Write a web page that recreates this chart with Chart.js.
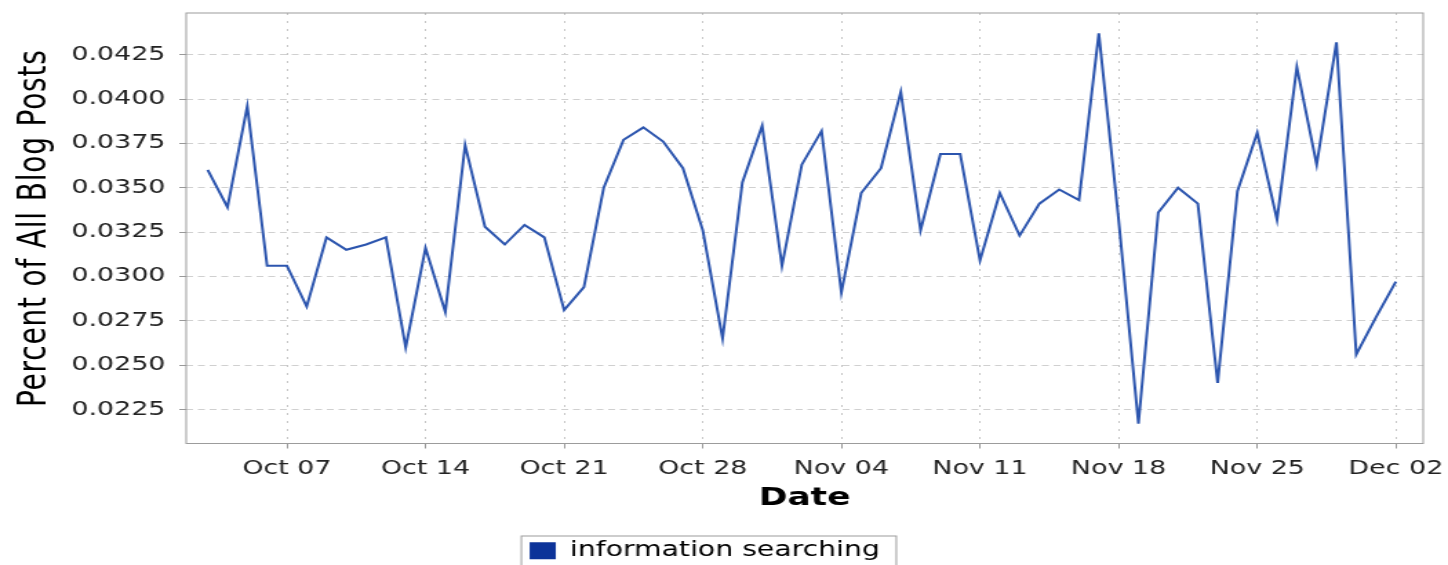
<!DOCTYPE html>
<html>
<head>
<meta charset="utf-8">
<script src="https://cdn.jsdelivr.net/npm/chart.js@4.4.0/dist/chart.umd.min.js"></script>
<style>
  html, body { margin: 0; padding: 0; background: #fff; }
  #wrap { width: 1448px; height: 565px; overflow: hidden; }
  /* the chart is drawn narrow and stretched sideways, like the source image */
  #chart { display: block; width: 1448px !important; height: 580px !important; }
</style>
</head>
<body>
<div id="wrap"><canvas id="chart" width="1050" height="580"></canvas></div>
<script>
var dates = [
  'Oct 03', 'Oct 04', 'Oct 05', 'Oct 06', 'Oct 07', 'Oct 08', 'Oct 09', 'Oct 10',
  'Oct 11', 'Oct 12', 'Oct 13', 'Oct 14', 'Oct 15', 'Oct 16', 'Oct 17', 'Oct 18',
  'Oct 19', 'Oct 20', 'Oct 21', 'Oct 22', 'Oct 23', 'Oct 24', 'Oct 25', 'Oct 26',
  'Oct 27', 'Oct 28', 'Oct 29', 'Oct 30', 'Oct 31', 'Nov 01', 'Nov 02', 'Nov 03',
  'Nov 04', 'Nov 05', 'Nov 06', 'Nov 07', 'Nov 08', 'Nov 09', 'Nov 10', 'Nov 11',
  'Nov 12', 'Nov 13', 'Nov 14', 'Nov 15', 'Nov 16', 'Nov 17', 'Nov 18', 'Nov 19',
  'Nov 20', 'Nov 21', 'Nov 22', 'Nov 23', 'Nov 24', 'Nov 25', 'Nov 26', 'Nov 27',
  'Nov 28', 'Nov 29', 'Nov 30', 'Dec 01', 'Dec 02'
];

var infoSearching = [
  0.0360, 0.0339, 0.0396, 0.0306, 0.0306, 0.0283, 0.0322, 0.0315,
  0.0318, 0.0322, 0.0260, 0.0316, 0.0280, 0.0374, 0.0328, 0.0318,
  0.0329, 0.0322, 0.0281, 0.0294, 0.0350, 0.0377, 0.0384, 0.0376,
  0.0361, 0.0326, 0.0265, 0.0353, 0.0385, 0.0306, 0.0363, 0.0382,
  0.0291, 0.0347, 0.0361, 0.0404, 0.0326, 0.0369, 0.0369, 0.0309,
  0.0347, 0.0323, 0.0341, 0.0349, 0.0343, 0.0437, 0.0332, 0.0217,
  0.0336, 0.0350, 0.0341, 0.0240, 0.0348, 0.0381, 0.0332, 0.0418,
  0.0363, 0.0432, 0.0256, 0.0277, 0.0297
];

var weekTicks = ['Oct 07', 'Oct 14', 'Oct 21', 'Oct 28', 'Nov 04', 'Nov 11', 'Nov 18', 'Nov 25', 'Dec 02'];
var yTicks = [0.0225, 0.0250, 0.0275, 0.0300, 0.0325, 0.0350, 0.0375, 0.0400, 0.0425];

var seriesName = 'information searching';
var yTitle = 'Percent of All Blog Posts';
var xTitle = 'Date';

var lineColor = '#2c55ae';
var swatchColor = '#0c3399';
var tickFont = { family: 'DejaVu Sans', size: 19.5 };

// plot frame, rotated y title and the box round the legend
var extras = {
  id: 'extras',
  afterLayout: function(chart) {
    // legend sits a little left of centre in the original
    chart.legend.left -= 5;
    chart.legend.right -= 5;
  },
  beforeDatasetsDraw: function(chart) {
    var a = chart.chartArea, ctx = chart.ctx;
    ctx.save();
    ctx.strokeStyle = '#9c9c9c';
    ctx.lineWidth = 1;
    ctx.strokeRect(a.left, a.top, a.right - a.left, a.bottom - a.top);
    ctx.restore();
  },
  afterDraw: function(chart) {
    var a = chart.chartArea, ctx = chart.ctx;
    ctx.save();
    ctx.translate(26, (a.top + a.bottom) / 2);
    ctx.rotate(-Math.PI / 2);
    ctx.font = '28px "DejaVu Sans"';
    ctx.letterSpacing = '0.8px';
    ctx.fillStyle = '#000';
    ctx.textAlign = 'center';
    ctx.textBaseline = 'middle';
    ctx.fillText(yTitle, 0, 0);
    ctx.restore();

    var hb = chart.legend.legendHitBoxes[0];
    if (hb) {
      ctx.save();
      ctx.strokeStyle = '#9c9c9c';
      ctx.lineWidth = 1;
      ctx.strokeRect(hb.left - 6, hb.top - 4.5, hb.width + 18, hb.height + 9);
      ctx.restore();
    }
  }
};

var ctx1 = document.getElementById('chart').getContext('2d');

new Chart(ctx1, {
  type: 'line',
  data: {
    datasets: [{
      label: seriesName,
      data: infoSearching.map(function(v, i) { return { x: i, y: v }; }),
      borderColor: lineColor,
      backgroundColor: swatchColor,
      borderWidth: 2,
      pointRadius: 0,
      tension: 0,
      fill: false
    }]
  },
  options: {
    responsive: false,
    devicePixelRatio: 1,
    animation: false,
    layout: { padding: { left: 0, right: 18, top: 13, bottom: 9 } },
    plugins: {
      legend: {
        position: 'bottom',
        labels: {
          boxWidth: 19,
          boxHeight: 17,
          padding: 10,
          color: '#111',
          font: { family: 'DejaVu Sans', size: 20.5 },
          generateLabels: function() {
            return [{ text: seriesName, fillStyle: swatchColor, strokeStyle: swatchColor, lineWidth: 0, hidden: false, datasetIndex: 0 }];
          }
        }
      },
      tooltip: { enabled: false }
    },
    scales: {
      x: {
        type: 'linear',
        min: -1.086,
        max: 61.38,
        afterBuildTicks: function(scale) {
          scale.ticks = weekTicks.map(function(l) { return { value: dates.indexOf(l) }; });
        },
        afterFit: function(scale) {
          scale.height = 87;
          scale.paddingLeft = 0;
          scale.paddingRight = 0;
        },
        ticks: {
          autoSkip: false,
          maxRotation: 0,
          padding: 9,
          color: '#222',
          font: tickFont,
          callback: function(v) { return dates[v]; }
        },
        grid: { color: '#c6c6c6', lineWidth: 1, tickLength: 5, tickColor: '#999', tickBorderDash: [] },
        border: { display: false, dash: [2, 6] },
        title: {
          display: true,
          text: xTitle,
          color: '#000',
          font: { family: 'DejaVu Sans', size: 25, weight: 'bold', lineHeight: 1.2 },
          padding: { top: 0, bottom: 17 }
        }
      },
      y: {
        min: 0.02058,
        max: 0.04485,
        afterBuildTicks: function(scale) {
          scale.ticks = yTicks.map(function(v) { return { value: v }; });
        },
        afterFit: function(scale) {
          scale.width = 135;
          scale.paddingTop = 0;
          scale.paddingBottom = 0;
        },
        ticks: {
          padding: 10,
          color: '#222',
          font: tickFont,
          callback: function(v) { return v.toFixed(4); }
        },
        grid: { color: '#d0d0d0', lineWidth: 1, tickLength: 5, tickColor: '#999', tickBorderDash: [] },
        border: { display: false, dash: [5, 3.5] }
      }
    }
  },
  plugins: [extras]
});
</script>
</body>
</html>
